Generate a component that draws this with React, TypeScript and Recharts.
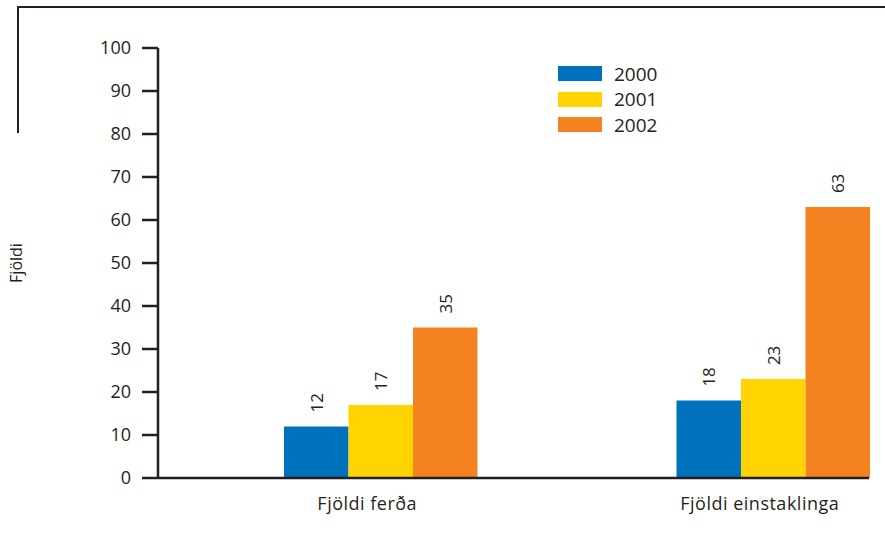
import React from 'react';
import { BarChart, Bar, XAxis, YAxis, Legend, LabelList } from 'recharts';

const categories = ['Fjöldi ferða', 'Fjöldi einstaklinga'];
const values2000 = [12, 18];
const values2001 = [17, 23];
const values2002 = [35, 63];
const yTicks = [0, 10, 20, 30, 40, 50, 60, 70, 80, 90, 100];

const series = [
  { key: 'y2000', name: '2000', color: '#0071bc', values: values2000 },
  { key: 'y2001', name: '2001', color: '#ffd400', values: values2001 },
  { key: 'y2002', name: '2002', color: '#f58220', values: values2002 },
];

const data = categories.map((name, i) => {
  const row: Record<string, string | number> = { name };
  series.forEach(s => { row[s.key] = s.values[i]; });
  return row;
});

const FONT = '"Open Sans", sans-serif';
const INK = '#231f20';

const TopLabel = (props: any) => {
  const { x, y, width, value } = props;
  const cx = x + width / 2;
  const ty = y - 14;
  return (
    <text
      x={cx}
      y={ty}
      transform={`rotate(-90, ${cx}, ${ty})`}
      textAnchor="start"
      dominantBaseline="central"
      fontSize={17}
      fontFamily={FONT}
      fill={INK}
    >
      {value}
    </text>
  );
};

const LegendBox = () => (
  <div style={{ fontFamily: FONT, fontSize: 19, color: INK }}>
    {series.map(s => (
      <div key={s.key} style={{ display: 'flex', alignItems: 'center', height: 25.5 }}>
        <div style={{ width: 44, height: 15, background: s.color, marginRight: 12 }} />
        <span>{s.name}</span>
      </div>
    ))}
  </div>
);

const App = () => (
  <div style={{ position: 'absolute', left: 0, top: 0, width: 885, height: 533, background: '#fff' }}>
    <div
      style={{
        position: 'absolute',
        left: 17,
        top: 6,
        width: 868,
        height: 127,
        borderTop: `2px solid ${INK}`,
        borderLeft: `2px solid ${INK}`,
        boxSizing: 'border-box',
      }}
    />
    <BarChart
      width={885}
      height={533}
      data={data}
      barGap={0}
      margin={{ top: 48, right: 16, left: 0, bottom: 15 }}
      style={{ position: 'absolute', left: 0, top: 0 }}
    >
      <XAxis
        dataKey="name"
        padding={{ left: 26, right: -100 }}
        axisLine={{ stroke: INK, strokeWidth: 2.5 }}
        tickLine={false}
        tickSize={0}
        tickMargin={19}
        height={40}
        tick={{ fill: INK, fontSize: 18, fontFamily: FONT, dx: -13, letterSpacing: 0.5 }}
      />
      <YAxis
        domain={[0, 100]}
        ticks={yTicks}
        interval={0}
        width={158}
        axisLine={{ stroke: INK, strokeWidth: 2.5 }}
        tickLine={{ stroke: INK, strokeWidth: 2.5 }}
        tickSize={16}
        tickMargin={11}
        tick={{ fill: INK, fontSize: 18, fontFamily: FONT }}
        label={{
          position: 'center',
          content: ({ viewBox }: any) => {
            const cy = viewBox.y + viewBox.height / 2;
            return (
              <text
                x={16}
                y={cy}
                transform={`rotate(-90, 16, ${cy})`}
                textAnchor="middle"
                dominantBaseline="central"
                fontSize={16}
                fontFamily={FONT}
                fill={INK}
              >
                Fjöldi
              </text>
            );
          },
        }}
      />
      <Legend
        content={LegendBox}
        layout="vertical"
        verticalAlign="middle"
        align="center"
        wrapperStyle={{ position: 'absolute', left: 558, top: 61, width: 'auto' }}
      />
      {series.map(s => (
        <Bar key={s.key} dataKey={s.key} name={s.name} fill={s.color} barSize={64.5} isAnimationActive={false}>
          <LabelList dataKey={s.key} content={TopLabel} />
        </Bar>
      ))}
    </BarChart>
  </div>
);

export default App;
